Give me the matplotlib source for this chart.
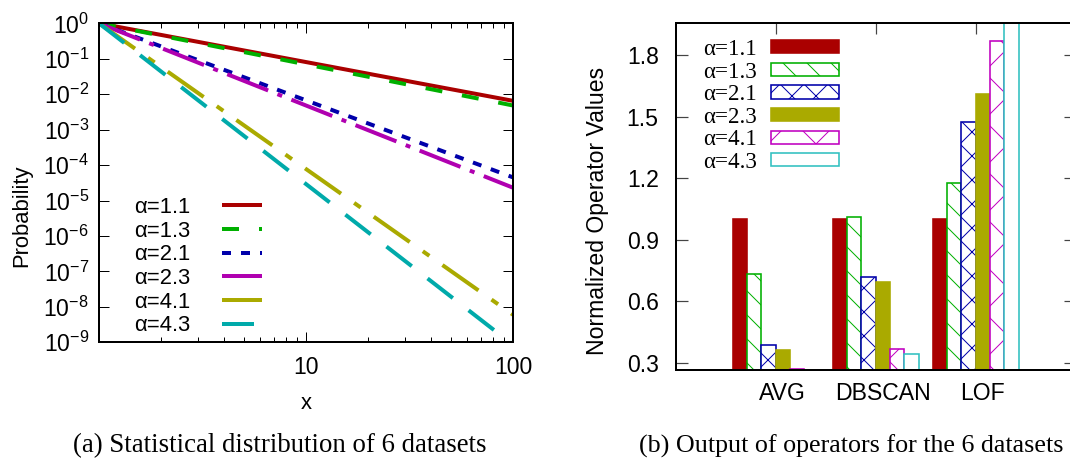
import matplotlib
matplotlib.use('Agg')
import matplotlib.pyplot as plt
import matplotlib.transforms as mtransforms
import numpy as np

plt.rcParams['font.family'] = ['Liberation Sans', 'DejaVu Sans']
plt.rcParams['mathtext.default'] = 'regular'
plt.rcParams['hatch.linewidth'] = 0.5
plt.rcParams['lines.scale_dashes'] = False

# ---- data: (a) distributions, straight lines in log-log from x=1 to x=100
labels = ['α=1.1', 'α=1.3', 'α=2.1', 'α=2.3', 'α=4.1', 'α=4.3']
x_ends = [1, 100]
prob_start = [1.0, 1.0, 1.0, 1.0, 1.0, 1.0]
prob_end = [6.5e-3, 4.8e-3, 4.5e-5, 2.3e-5, 6e-9, 8.5e-10]

# ---- data: (b) normalized operator values
operators = ['AVG', 'DBSCAN', 'LOF']
avg_vals = [1.0, 0.73, 0.385, 0.363, 0.268, 0.25]
dbscan_vals = [1.0, 1.01, 0.72, 0.691, 0.369, 0.342]
lof_vals = [1.0, 1.175, 1.475, 1.609, 1.87, 2.1]

line_colors = ['#aa0000', '#00b000', '#0000aa', '#b000b0', '#aaaa00', '#00aaaa']
bar_colors = ['#aa0000', '#00b000', '#0000aa', '#aaaa00', '#c000c0', '#30c0c0']
dashes = [None, (8.5, 10), (4.5, 5), (22, 5, 2.5, 5), (22, 8, 4, 8), (16, 10)]

W, H = 1070, 461
fig = plt.figure(figsize=(W / 144, H / 144), dpi=144)

# ---------------- left plot
ax1 = fig.add_axes([99 / W, 1 - 342.3 / H, 414 / W, 319 / H])
for i, lab in enumerate(labels):
    ln, = ax1.plot(x_ends, [prob_start[i], prob_end[i]], color=line_colors[i],
                   lw=2, label=lab, solid_capstyle='butt', dash_capstyle='butt')
    if dashes[i] is not None:
        ln.set_dashes(dashes[i])
ax1.set_xscale('log')
ax1.set_yscale('log')
ax1.set_xlim(1, 100)
ax1.set_ylim(1e-9, 1)
ax1.set_yticks([10.0 ** -k for k in range(10)])
ax1.set_xticks([10, 100])
ax1.set_xticklabels(['10', '100'])
for s in ax1.spines.values():
    s.set_linewidth(1.0)
ax1.tick_params(which='both', direction='in', top=True, right=True, width=0.5, labelsize=11.5)
ax1.tick_params(which='major', length=5, pad=5)
ax1.tick_params(which='minor', length=2.5)
ax1.tick_params(axis='x', which='major', pad=7)
ax1.set_xlabel('x', fontsize=11)
ax1.set_ylabel('Probability', fontsize=11)
ax1.xaxis.set_label_coords(0.5, -0.16)
ax1.yaxis.set_label_coords(-0.162, 0.396)
ax1.legend(loc='upper left', bbox_to_anchor=(0.085, 0.455), frameon=False, markerfirst=False,
           fontsize=11, handlelength=1.82, handletextpad=1.45, labelspacing=0.12,
           borderpad=0, borderaxespad=0)

# ---------------- right plot
ax2 = fig.add_axes([675.7 / W, 1 - 370 / H, 400 / W, 346.7 / H])
values = np.array([avg_vals, dbscan_vals, lof_vals])
xpos = np.arange(len(operators))
bw = 1 / 7
styles = [
    dict(color=bar_colors[0], edgecolor=bar_colors[0]),
    dict(facecolor='white', edgecolor=bar_colors[1], hatch='\\\\'),
    dict(facecolor='white', edgecolor=bar_colors[2], hatch='xx'),
    dict(color=bar_colors[3], edgecolor=bar_colors[3]),
    dict(facecolor='white', edgecolor=bar_colors[4], hatch='x'),
    dict(facecolor='white', edgecolor=bar_colors[5]),
]
handles = []
for i in range(len(labels)):
    b = ax2.bar(xpos + (i - 2.5) * bw, values[:, i], width=bw, linewidth=0.8,
                label=labels[i], **styles[i])
    handles.append(b)
ax2.set_xlim(-1.0, 3.0)
ax2.set_ylim(0.2644, 1.9546)
ax2.set_yticks([0.3, 0.6, 0.9, 1.2, 1.5, 1.8])
ax2.set_yticklabels(['0.3', '0.6', '0.9', '1.2', '1.5', '1.8'])
ax2.set_xticks(xpos)
ax2.set_xticklabels(operators)
for s in ax2.spines.values():
    s.set_linewidth(1.0)
ax2.tick_params(axis='y', direction='in', left=True, right=True, length=6, width=0.6,
                color='#444444', labelsize=11.5, pad=8.5)
ax2.tick_params(axis='x', direction='in', bottom=False, top=True, length=5.5, width=0.6,
                color='#444444', labelsize=11.5, pad=6)
offset = mtransforms.ScaledTranslation(3.5 / 72, 0, fig.dpi_scale_trans)
for t in ax2.get_xticklabels():
    t.set_transform(t.get_transform() + offset)
ax2.set_ylabel('Normalized Operator Values', fontsize=11.5)
ax2.yaxis.set_label_coords(-0.167, 0.46)
ax2.legend(handles=handles, loc='upper left', bbox_to_anchor=(0.068, 0.955), frameon=False,
           markerfirst=False, prop={'family': 'Liberation Serif', 'size': 11.5},
           handlelength=2.96, handleheight=0.51, handletextpad=0.6, labelspacing=0.07,
           borderpad=0, borderaxespad=0)

# ---------------- captions
fig.text(279.5 / W, 1 - 446 / H, '(a) Statistical distribution of 6 datasets',
         family='Liberation Serif', fontsize=13.4, ha='center', va='center')
fig.text(851 / W, 1 - 446 / H, '(b) Output of operators for the 6 datasets',
         family='Liberation Serif', fontsize=13.0, ha='center', va='center')

fig.savefig('out.png', dpi=144)
